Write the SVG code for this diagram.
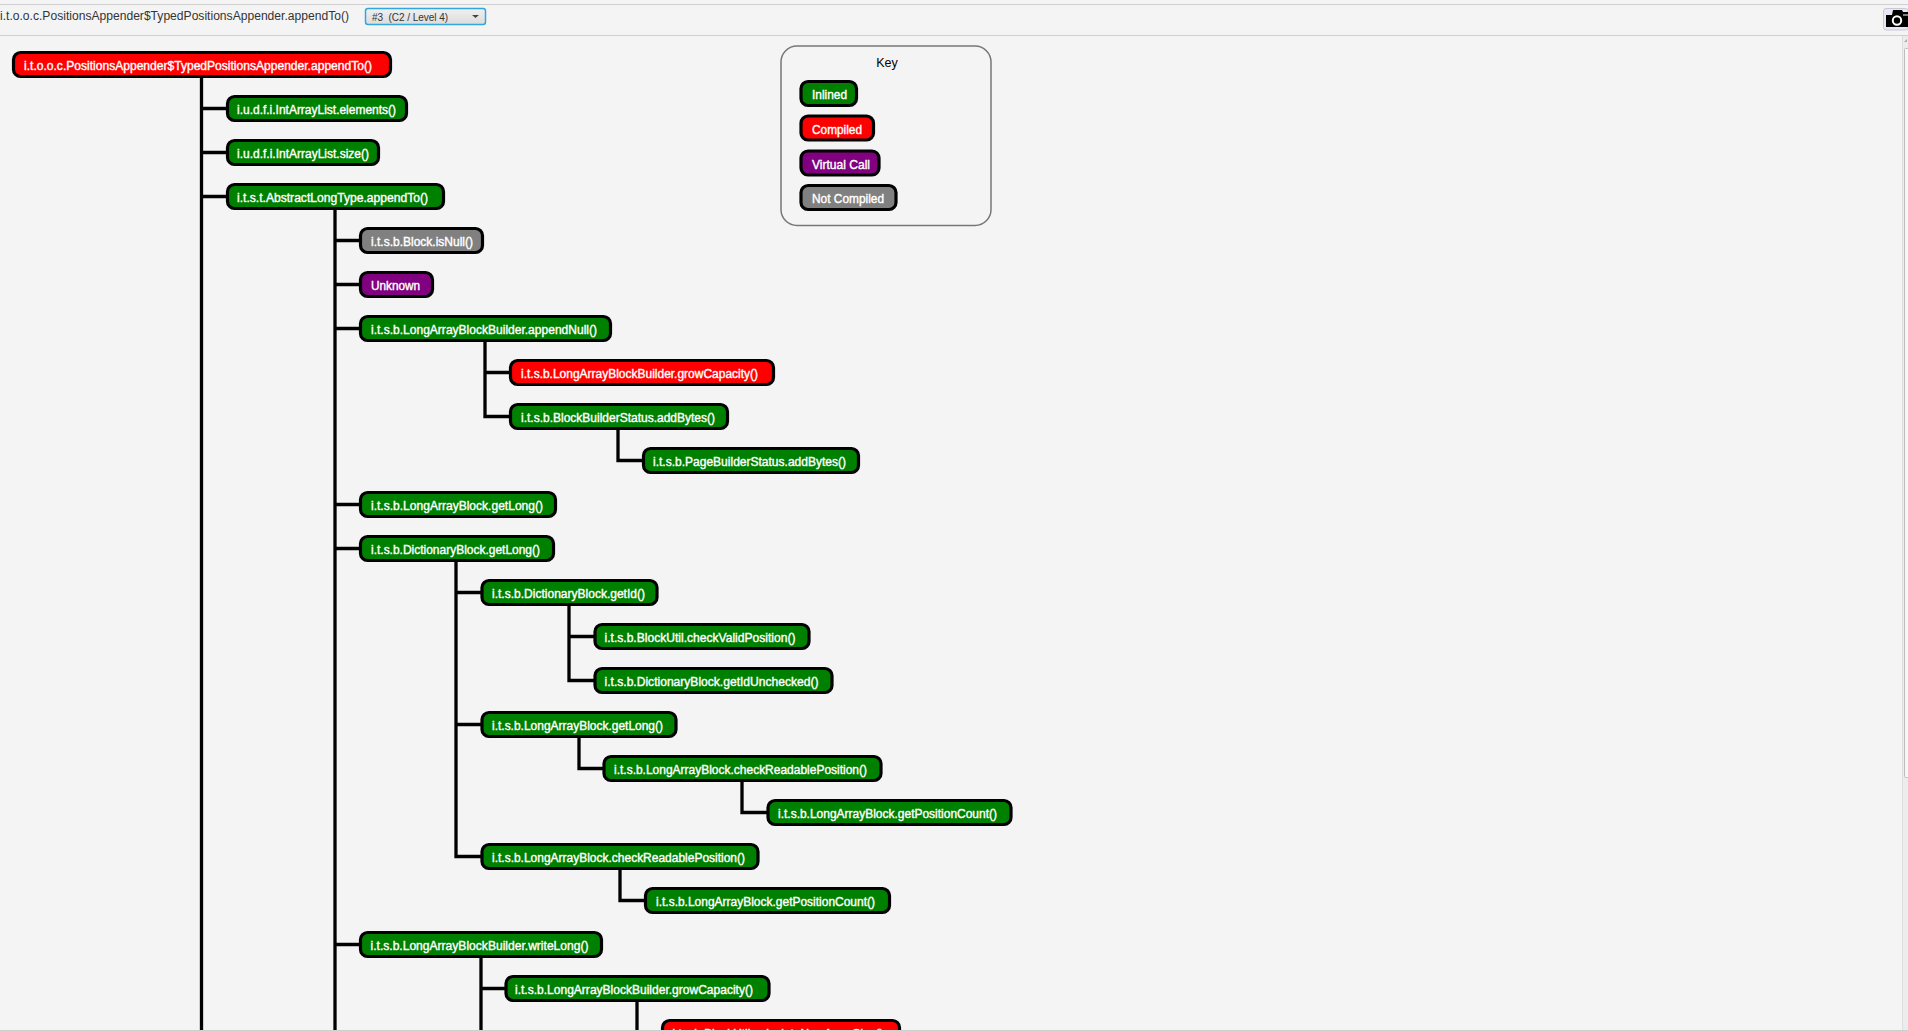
<svg xmlns="http://www.w3.org/2000/svg" width="1908" height="1031" viewBox="0 0 1908 1031">
<style>
text{font-family:"Liberation Sans",Arial,sans-serif}
.n rect{stroke:#000;stroke-width:3.200}
.n text{font-size:13px;fill:#fff;stroke:#fff;stroke-width:.4;text-anchor:start}
.i rect{fill:#008000}.c rect{fill:#f00}.v rect{fill:#800080}.g rect{fill:#808080}
#connectors path{fill:none;stroke:#000;stroke-width:3.300}
</style>
<defs><linearGradient id="btn" x1="0" y1="0" x2="0" y2="1"><stop offset="0" stop-color="#f0f0f0"/><stop offset="1" stop-color="#dcdcdc"/></linearGradient></defs>
<rect width="1908" height="1031" fill="#f4f4f4"/>
<rect y="4" width="1908" height="1" fill="#cfcfcf"/>
<rect y="35" width="1908" height="1" fill="#cfcfcf"/>
<text x="0" y="20" font-size="12.500" fill="#333" textLength="349" lengthAdjust="spacingAndGlyphs">i.t.o.o.c.PositionsAppender$TypedPositionsAppender.appendTo()</text>
<g id="compile-select"><rect x="365.500" y="8.500" width="120" height="16" rx="2.500" fill="url(#btn)" stroke="#30a8dc" stroke-width="1.500"/><text x="372" y="20.500" font-size="10" fill="#333" textLength="76" xml:space="preserve">#3  (C2 / Level 4)</text><path d="M472 15h7l-3.500 3z" fill="#444"/></g>
<g id="camera"><rect x="1883.500" y="8.500" width="24.500" height="21.500" rx="2.500" fill="#e8e8f4" stroke="#c8c8d8"/><path d="M1886 15h6l1-5h9l1 2h5v15h-22z" fill="#000"/><circle cx="1897" cy="20.500" r="4.200" fill="none" stroke="#fff" stroke-width="2"/><rect x="1903" y="14.500" width="5" height="1" fill="#fff"/></g>
<g id="scrollbar"><rect x="1903" y="36" width="5" height="994" fill="#ececec"/><rect x="1902" y="36" width="1" height="994" fill="#dedede"/><path d="M1904 42l3-3v3z" fill="#aaa"/><rect x="1904.500" y="48.500" width="4" height="729" rx="1" fill="#f6f6f6" stroke="#bdbdbd"/></g>
<g id="connectors">
<path d="M201.500 78V1030M201.500 108.500H226M201.500 152.500H226M201.500 196.500H226"/>
<path d="M335 210V1030M335 240.500H359M335 284.500H359M335 328.500H359M335 504.500H359M335 548.500H359M335 944.500H359"/>
<path d="M485 342V416.500H509M485 372.500H509"/>
<path d="M618 430V460.500H642"/>
<path d="M456 562V856.500H481M456 592.500H481M456 724.500H481"/>
<path d="M569 606V680.500H594M569 636.500H594"/>
<path d="M579 738V768.500H603"/>
<path d="M742 782V812.500H767"/>
<path d="M620 870V900.500H644"/>
<path d="M481 958V1030M481 988.500H505"/>
<path d="M637 1002V1030"/>
</g>
<g id="n1" class="n c"><rect x="13.500" y="52.500" width="377" height="24" rx="7"/><text x="24" y="70" textLength="348" lengthAdjust="spacingAndGlyphs">i.t.o.o.c.PositionsAppender$TypedPositionsAppender.appendTo()</text></g>
<g id="n2" class="n i"><rect x="227.500" y="96.500" width="179" height="24" rx="7"/><text x="237" y="114" textLength="159" lengthAdjust="spacingAndGlyphs">i.u.d.f.i.IntArrayList.elements()</text></g>
<g id="n3" class="n i"><rect x="227.500" y="140.500" width="151" height="24" rx="7"/><text x="237" y="158" textLength="132" lengthAdjust="spacingAndGlyphs">i.u.d.f.i.IntArrayList.size()</text></g>
<g id="n4" class="n i"><rect x="227.500" y="184.500" width="216" height="24" rx="7"/><text x="237" y="202" textLength="191" lengthAdjust="spacingAndGlyphs">i.t.s.t.AbstractLongType.appendTo()</text></g>
<g id="n5" class="n g"><rect x="360.500" y="228.500" width="122" height="24" rx="7"/><text x="371" y="246" textLength="102" lengthAdjust="spacingAndGlyphs">i.t.s.b.Block.isNull()</text></g>
<g id="n6" class="n v"><rect x="360.500" y="272.500" width="72" height="24" rx="7"/><text x="371" y="290" textLength="49" lengthAdjust="spacingAndGlyphs">Unknown</text></g>
<g id="n7" class="n i"><rect x="360.500" y="316.500" width="250" height="24" rx="7"/><text x="371" y="334" textLength="226" lengthAdjust="spacingAndGlyphs">i.t.s.b.LongArrayBlockBuilder.appendNull()</text></g>
<g id="n8" class="n c"><rect x="510.500" y="360.500" width="263" height="24" rx="7"/><text x="521" y="378" textLength="237" lengthAdjust="spacingAndGlyphs">i.t.s.b.LongArrayBlockBuilder.growCapacity()</text></g>
<g id="n9" class="n i"><rect x="510.500" y="404.500" width="217" height="24" rx="7"/><text x="521" y="422" textLength="194" lengthAdjust="spacingAndGlyphs">i.t.s.b.BlockBuilderStatus.addBytes()</text></g>
<g id="n10" class="n i"><rect x="643.500" y="448.500" width="215" height="24" rx="7"/><text x="653" y="466" textLength="193" lengthAdjust="spacingAndGlyphs">i.t.s.b.PageBuilderStatus.addBytes()</text></g>
<g id="n11" class="n i"><rect x="360.500" y="492.500" width="195" height="24" rx="7"/><text x="371" y="510" textLength="172" lengthAdjust="spacingAndGlyphs">i.t.s.b.LongArrayBlock.getLong()</text></g>
<g id="n12" class="n i"><rect x="360.500" y="536.500" width="193" height="24" rx="7"/><text x="371" y="554" textLength="169" lengthAdjust="spacingAndGlyphs">i.t.s.b.DictionaryBlock.getLong()</text></g>
<g id="n13" class="n i"><rect x="482" y="580.500" width="175" height="24" rx="7"/><text x="492" y="598" textLength="153" lengthAdjust="spacingAndGlyphs">i.t.s.b.DictionaryBlock.getId()</text></g>
<g id="n14" class="n i"><rect x="595" y="624.500" width="214" height="24" rx="7"/><text x="604.500" y="642" textLength="191" lengthAdjust="spacingAndGlyphs">i.t.s.b.BlockUtil.checkValidPosition()</text></g>
<g id="n15" class="n i"><rect x="595" y="668.500" width="237" height="24" rx="7"/><text x="604.500" y="686" textLength="214" lengthAdjust="spacingAndGlyphs">i.t.s.b.DictionaryBlock.getIdUnchecked()</text></g>
<g id="n16" class="n i"><rect x="482" y="712.500" width="194" height="24" rx="7"/><text x="492" y="730" textLength="171" lengthAdjust="spacingAndGlyphs">i.t.s.b.LongArrayBlock.getLong()</text></g>
<g id="n17" class="n i"><rect x="604" y="756.500" width="277" height="24" rx="7"/><text x="614" y="774" textLength="253" lengthAdjust="spacingAndGlyphs">i.t.s.b.LongArrayBlock.checkReadablePosition()</text></g>
<g id="n18" class="n i"><rect x="768" y="800.500" width="243" height="24" rx="7"/><text x="778" y="818" textLength="219" lengthAdjust="spacingAndGlyphs">i.t.s.b.LongArrayBlock.getPositionCount()</text></g>
<g id="n19" class="n i"><rect x="482" y="844.500" width="276" height="24" rx="7"/><text x="492" y="862" textLength="253" lengthAdjust="spacingAndGlyphs">i.t.s.b.LongArrayBlock.checkReadablePosition()</text></g>
<g id="n20" class="n i"><rect x="645.500" y="888.500" width="244" height="24" rx="7"/><text x="656" y="906" textLength="219" lengthAdjust="spacingAndGlyphs">i.t.s.b.LongArrayBlock.getPositionCount()</text></g>
<g id="n21" class="n i"><rect x="360.500" y="932.500" width="241" height="24" rx="7"/><text x="370.500" y="950" textLength="218" lengthAdjust="spacingAndGlyphs">i.t.s.b.LongArrayBlockBuilder.writeLong()</text></g>
<g id="n22" class="n i"><rect x="506" y="976.500" width="263" height="24" rx="7"/><text x="515" y="994" textLength="238" lengthAdjust="spacingAndGlyphs">i.t.s.b.LongArrayBlockBuilder.growCapacity()</text></g>
<g id="n23" class="n c"><rect x="662.500" y="1020.500" width="237" height="24" rx="7"/><text x="672.500" y="1038" textLength="211" lengthAdjust="spacingAndGlyphs">i.t.s.b.BlockUtil.calculateNewArraySize()</text></g>
<rect id="bottom-edge" y="1030" width="1908" height="1" fill="#cfcfcf"/>
<g id="key"><rect x="781" y="46" width="210" height="179.500" rx="16" fill="#f4f4f4" stroke="#777" stroke-width="1.500"/><text x="887" y="67" font-size="12.500" fill="#000" text-anchor="middle">Key</text>
<g id="k1" class="n i"><rect x="801" y="81.500" width="55.500" height="24" rx="7"/><text x="812" y="99" textLength="35" lengthAdjust="spacingAndGlyphs">Inlined</text></g>
<g id="k2" class="n c"><rect x="801" y="116" width="72.500" height="24" rx="7"/><text x="812" y="133.500" textLength="50" lengthAdjust="spacingAndGlyphs">Compiled</text></g>
<g id="k3" class="n v"><rect x="801" y="151" width="78" height="24" rx="7"/><text x="812" y="168.500" textLength="58" lengthAdjust="spacingAndGlyphs">Virtual Call</text></g>
<g id="k4" class="n g"><rect x="801" y="185.500" width="95" height="24" rx="7"/><text x="812" y="203" textLength="72" lengthAdjust="spacingAndGlyphs">Not Compiled</text></g>
</g>
</svg>
